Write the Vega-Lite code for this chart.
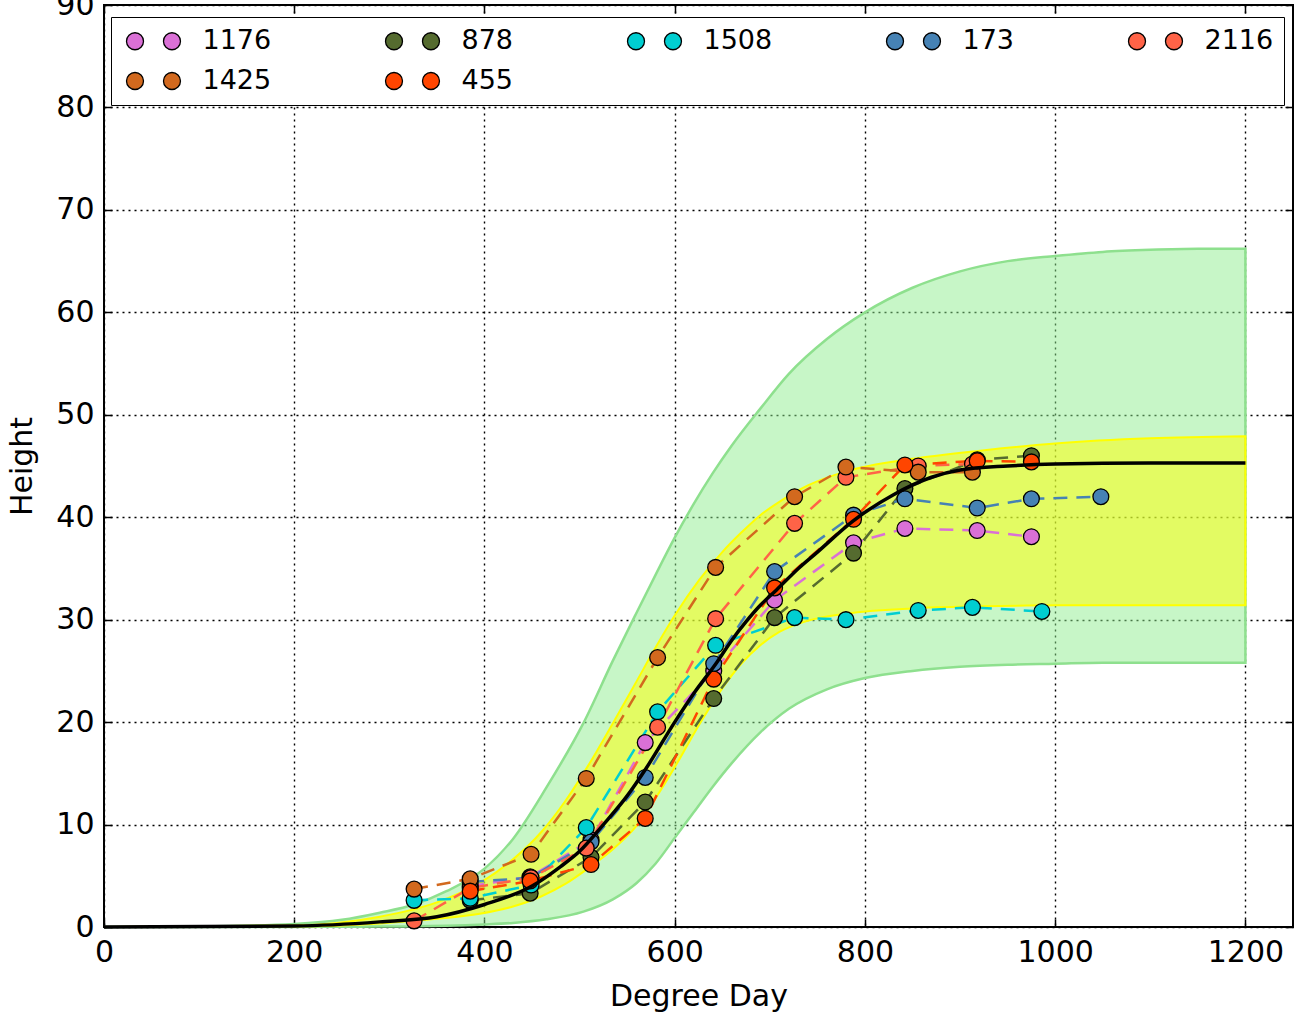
{
  "$schema": "https://vega.github.io/schema/vega-lite/v6.json",
  "width": 1189,
  "height": 922,
  "autosize": {"type": "none"},
  "padding": {"left": 104, "top": 5, "right": 8, "bottom": 88},
  "background": "white",
  "config": {
    "view": {"stroke": "black", "strokeWidth": 2},
    "font": "DejaVu Sans",
    "axis": {
      "domain": false,
      "grid": true,
      "gridColor": "black",
      "gridDash": [2, 4],
      "gridWidth": 1.4,
      "gridOpacity": 1,
      "tickColor": "black",
      "tickSize": -8,
      "tickWidth": 1.5,
      "labelPadding": 18,
      "labelFlush": false,
      "labelFont": "DejaVu Sans",
      "labelFontSize": 30,
      "labelColor": "black",
      "titleFont": "DejaVu Sans",
      "titleFontSize": 30,
      "titleFontWeight": "normal",
      "titleColor": "black"
    }
  },
  "datasets": {
    "green": [
      {"x": 0, "lo": 0, "hi": 0},
      {"x": 100, "lo": 0, "hi": 0.05},
      {"x": 200, "lo": 0.01, "hi": 0.3},
      {"x": 250, "lo": 0.02, "hi": 0.7},
      {"x": 290, "lo": 0.04, "hi": 1.4},
      {"x": 326, "lo": 0.07, "hi": 2.2},
      {"x": 360, "lo": 0.12, "hi": 3.5},
      {"x": 400, "lo": 0.25, "hi": 5.7},
      {"x": 430, "lo": 0.4, "hi": 8.6},
      {"x": 465, "lo": 0.75, "hi": 13.6},
      {"x": 504, "lo": 1.5, "hi": 19.9},
      {"x": 535, "lo": 2.7, "hi": 26.0},
      {"x": 560, "lo": 4.3, "hi": 30.7},
      {"x": 580, "lo": 6.2, "hi": 34.4},
      {"x": 600, "lo": 8.7, "hi": 38.0},
      {"x": 620, "lo": 11.2, "hi": 41.3},
      {"x": 640, "lo": 13.7, "hi": 44.3},
      {"x": 660, "lo": 16.0, "hi": 47.0},
      {"x": 690, "lo": 19.0, "hi": 50.6},
      {"x": 720, "lo": 21.3, "hi": 54.0},
      {"x": 760, "lo": 23.2, "hi": 57.4},
      {"x": 800, "lo": 24.3, "hi": 60.0},
      {"x": 850, "lo": 25.0, "hi": 62.4},
      {"x": 900, "lo": 25.4, "hi": 64.0},
      {"x": 950, "lo": 25.6, "hi": 65.0},
      {"x": 1000, "lo": 25.7, "hi": 65.5},
      {"x": 1050, "lo": 25.8, "hi": 65.9},
      {"x": 1100, "lo": 25.8, "hi": 66.1},
      {"x": 1150, "lo": 25.8, "hi": 66.2},
      {"x": 1200, "lo": 25.8, "hi": 66.2}
    ],
    "yellow": [
      {"x": 0, "lo": 0, "hi": 0},
      {"x": 200, "lo": 0.05, "hi": 0.15},
      {"x": 290, "lo": 0.35, "hi": 1.0},
      {"x": 350, "lo": 0.8, "hi": 2.4},
      {"x": 395, "lo": 1.3, "hi": 4.3},
      {"x": 430, "lo": 2.0, "hi": 6.6},
      {"x": 460, "lo": 3.0, "hi": 9.3},
      {"x": 485, "lo": 4.2, "hi": 12.3},
      {"x": 510, "lo": 5.8, "hi": 15.9},
      {"x": 535, "lo": 7.6, "hi": 19.9},
      {"x": 560, "lo": 9.9, "hi": 24.0},
      {"x": 580, "lo": 12.6, "hi": 27.3},
      {"x": 600, "lo": 15.6, "hi": 30.4},
      {"x": 626, "lo": 19.8, "hi": 33.9},
      {"x": 650, "lo": 23.3, "hi": 36.6},
      {"x": 670, "lo": 25.7, "hi": 38.5},
      {"x": 690, "lo": 27.5, "hi": 40.2},
      {"x": 710, "lo": 28.8, "hi": 41.5},
      {"x": 740, "lo": 29.9, "hi": 43.1},
      {"x": 781, "lo": 30.6, "hi": 44.5},
      {"x": 850, "lo": 31.1, "hi": 45.7},
      {"x": 921, "lo": 31.3, "hi": 46.5},
      {"x": 1000, "lo": 31.4, "hi": 47.2},
      {"x": 1100, "lo": 31.4, "hi": 47.7},
      {"x": 1200, "lo": 31.4, "hi": 47.9}
    ],
    "mean": [
      {"x": 0, "y": 0},
      {"x": 200, "y": 0.1},
      {"x": 290, "y": 0.5},
      {"x": 350, "y": 1.0},
      {"x": 400, "y": 2.2},
      {"x": 450, "y": 4.0},
      {"x": 480, "y": 5.9},
      {"x": 500, "y": 7.4},
      {"x": 525, "y": 10.0},
      {"x": 550, "y": 12.8},
      {"x": 570, "y": 15.5},
      {"x": 600, "y": 20.0},
      {"x": 620, "y": 22.8},
      {"x": 644, "y": 25.8},
      {"x": 660, "y": 28.0},
      {"x": 675, "y": 29.8},
      {"x": 690, "y": 31.4},
      {"x": 707, "y": 32.9},
      {"x": 730, "y": 35.0},
      {"x": 750, "y": 36.6},
      {"x": 787, "y": 39.6},
      {"x": 830, "y": 42.2},
      {"x": 870, "y": 43.9},
      {"x": 900, "y": 44.6},
      {"x": 950, "y": 45.0},
      {"x": 1000, "y": 45.2},
      {"x": 1100, "y": 45.3},
      {"x": 1200, "y": 45.3}
    ],
    "obs": [
      {"id": "1176", "x": 385, "y": 4.0},
      {"id": "1176", "x": 448, "y": 4.9},
      {"id": "1176", "x": 512, "y": 8.5},
      {"id": "1176", "x": 569, "y": 18.0},
      {"id": "1176", "x": 641, "y": 25.0},
      {"id": "1176", "x": 705, "y": 31.9},
      {"id": "1176", "x": 788, "y": 37.5},
      {"id": "1176", "x": 842, "y": 38.9},
      {"id": "1176", "x": 918, "y": 38.7},
      {"id": "1176", "x": 975, "y": 38.1},
      {"id": "878", "x": 385, "y": 2.6},
      {"id": "878", "x": 448, "y": 3.3},
      {"id": "878", "x": 512, "y": 6.8},
      {"id": "878", "x": 569, "y": 12.2},
      {"id": "878", "x": 641, "y": 22.3},
      {"id": "878", "x": 705, "y": 30.2},
      {"id": "878", "x": 788, "y": 36.5},
      {"id": "878", "x": 842, "y": 42.8},
      {"id": "878", "x": 918, "y": 45.6},
      {"id": "878", "x": 975, "y": 46.0},
      {"id": "1508", "x": 326, "y": 2.6},
      {"id": "1508", "x": 385, "y": 2.8},
      {"id": "1508", "x": 449, "y": 4.1},
      {"id": "1508", "x": 507, "y": 9.7},
      {"id": "1508", "x": 582, "y": 21.0},
      {"id": "1508", "x": 643, "y": 27.5},
      {"id": "1508", "x": 726, "y": 30.2},
      {"id": "1508", "x": 780, "y": 30.0},
      {"id": "1508", "x": 856, "y": 30.9},
      {"id": "1508", "x": 913, "y": 31.2},
      {"id": "1508", "x": 986, "y": 30.8},
      {"id": "173", "x": 385, "y": 4.4},
      {"id": "173", "x": 448, "y": 4.8},
      {"id": "173", "x": 512, "y": 8.3},
      {"id": "173", "x": 569, "y": 14.6},
      {"id": "173", "x": 641, "y": 25.7},
      {"id": "173", "x": 705, "y": 34.7},
      {"id": "173", "x": 788, "y": 40.2},
      {"id": "173", "x": 842, "y": 41.8},
      {"id": "173", "x": 918, "y": 40.9},
      {"id": "173", "x": 975, "y": 41.8},
      {"id": "173", "x": 1048, "y": 42.0},
      {"id": "2116", "x": 326, "y": 0.6},
      {"id": "2116", "x": 385, "y": 3.8},
      {"id": "2116", "x": 449, "y": 4.8},
      {"id": "2116", "x": 507, "y": 7.7},
      {"id": "2116", "x": 582, "y": 19.5},
      {"id": "2116", "x": 643, "y": 30.1},
      {"id": "2116", "x": 726, "y": 39.4},
      {"id": "2116", "x": 780, "y": 43.9},
      {"id": "2116", "x": 856, "y": 45.0},
      {"id": "2116", "x": 913, "y": 45.2},
      {"id": "1425", "x": 326, "y": 3.7},
      {"id": "1425", "x": 385, "y": 4.7},
      {"id": "1425", "x": 449, "y": 7.1},
      {"id": "1425", "x": 507, "y": 14.5},
      {"id": "1425", "x": 582, "y": 26.3},
      {"id": "1425", "x": 643, "y": 35.1},
      {"id": "1425", "x": 726, "y": 42.0},
      {"id": "1425", "x": 780, "y": 44.9},
      {"id": "1425", "x": 856, "y": 44.4},
      {"id": "1425", "x": 913, "y": 44.4},
      {"id": "455", "x": 385, "y": 3.5},
      {"id": "455", "x": 448, "y": 4.5},
      {"id": "455", "x": 512, "y": 6.1},
      {"id": "455", "x": 569, "y": 10.6},
      {"id": "455", "x": 641, "y": 24.2},
      {"id": "455", "x": 705, "y": 33.1},
      {"id": "455", "x": 788, "y": 39.8},
      {"id": "455", "x": 842, "y": 45.1},
      {"id": "455", "x": 918, "y": 45.5},
      {"id": "455", "x": 975, "y": 45.4}
    ]
  },
  "resolve": {"axis": {"x": "independent", "y": "independent"}},
  "layer": [
    {
      "data": {"name": "green"},
      "mark": {"type": "area", "fill": "#90EE90", "fillOpacity": 0.5, "stroke": "#8EE08E", "strokeWidth": 2.5, "interpolate": "monotone"},
      "encoding": {
        "x": {"field": "x", "type": "quantitative", "scale": {"domain": [0, 1250], "nice": false, "zero": false},
              "axis": {"values": [0, 200, 400, 600, 800, 1000, 1200], "format": "d", "title": "Degree Day", "titlePadding": 14, "orient": "bottom"}},
        "y": {"field": "hi", "type": "quantitative", "scale": {"domain": [0, 90], "nice": false},
              "axis": {"values": [0, 10, 20, 30, 40, 50, 60, 70, 80, 90], "format": "d", "title": "Height", "titlePadding": 18, "orient": "left"}},
        "y2": {"field": "lo"}
      }
    },
    {
      "data": {"name": "yellow"},
      "mark": {"type": "area", "fill": "#FFFF00", "fillOpacity": 0.5, "stroke": "#FFFF00", "strokeWidth": 2, "interpolate": "monotone"},
      "encoding": {
        "x": {"field": "x", "type": "quantitative", "axis": null},
        "y": {"field": "hi", "type": "quantitative", "axis": null},
        "y2": {"field": "lo"}
      }
    },
    {
      "data": {"name": "obs"},
      "mark": {"type": "line", "strokeDash": [14, 9], "strokeWidth": 2.5},
      "encoding": {
        "x": {"field": "x", "type": "quantitative", "axis": null},
        "y": {"field": "y", "type": "quantitative", "axis": null},
        "stroke": {"field": "id", "type": "nominal", "legend": null,
                  "scale": {"domain": ["455", "1425", "2116", "173", "1508", "878", "1176"],
                            "range": ["#FF4500", "#D2691E", "#FF6347", "#4682B4", "#00CED1", "#556B2F", "#DA70D6"]}},
        "detail": {"field": "id"}
      }
    },
    {
      "data": {"name": "obs"},
      "mark": {"type": "circle", "size": 250, "opacity": 1, "stroke": "black", "strokeWidth": 1.3},
      "encoding": {
        "x": {"field": "x", "type": "quantitative", "axis": null},
        "y": {"field": "y", "type": "quantitative", "axis": null},
        "color": {"field": "id", "type": "nominal",
                  "scale": {"domain": ["1176", "878", "1508", "173", "2116", "1425", "455"],
                            "range": ["#DA70D6", "#556B2F", "#00CED1", "#4682B4", "#FF6347", "#D2691E", "#FF4500"]},
                  "legend": {
                    "title": null,
                    "orient": "none",
                    "legendX": 7,
                    "legendY": 12,
                    "direction": "horizontal",
                    "columns": 5,
                    "columnPadding": 109,
                    "rowPadding": 12,
                    "padding": 10.5,
                    "strokeColor": "black",
                    "fillColor": "white",
                    "symbolType": "M 1 0 C 1 0.5523 0.5523 1 0 1 C -0.5523 1 -1 0.5523 -1 0 C -1 -0.5523 -0.5523 -1 0 -1 C 0.5523 -1 1 -0.5523 1 0 Z M 5.35 0 C 5.35 0.5523 4.9023 1 4.35 1 C 3.7977 1 3.35 0.5523 3.35 0 C 3.35 -0.5523 3.7977 -1 4.35 -1 C 4.9023 -1 5.35 -0.5523 5.35 0 Z",
                    "symbolSize": 289,
                    "symbolStrokeColor": "black",
                    "symbolStrokeWidth": 1.3,
                    "symbolOpacity": 1,
                    "labelOffset": 54,
                    "labelFont": "DejaVu Sans",
                    "labelFontSize": 27,
                    "labelColor": "black"
                  }}
      }
    },
    {
      "data": {"name": "mean"},
      "mark": {"type": "line", "color": "black", "strokeWidth": 3.5, "interpolate": "monotone"},
      "encoding": {
        "x": {"field": "x", "type": "quantitative",
              "axis": {"orient": "top", "values": [0, 200, 400, 600, 800, 1000, 1200], "labels": false, "grid": false, "title": null}},
        "y": {"field": "y", "type": "quantitative",
              "axis": {"orient": "right", "values": [0, 10, 20, 30, 40, 50, 60, 70, 80, 90], "labels": false, "grid": false, "title": null}}
      }
    }
  ]
}
